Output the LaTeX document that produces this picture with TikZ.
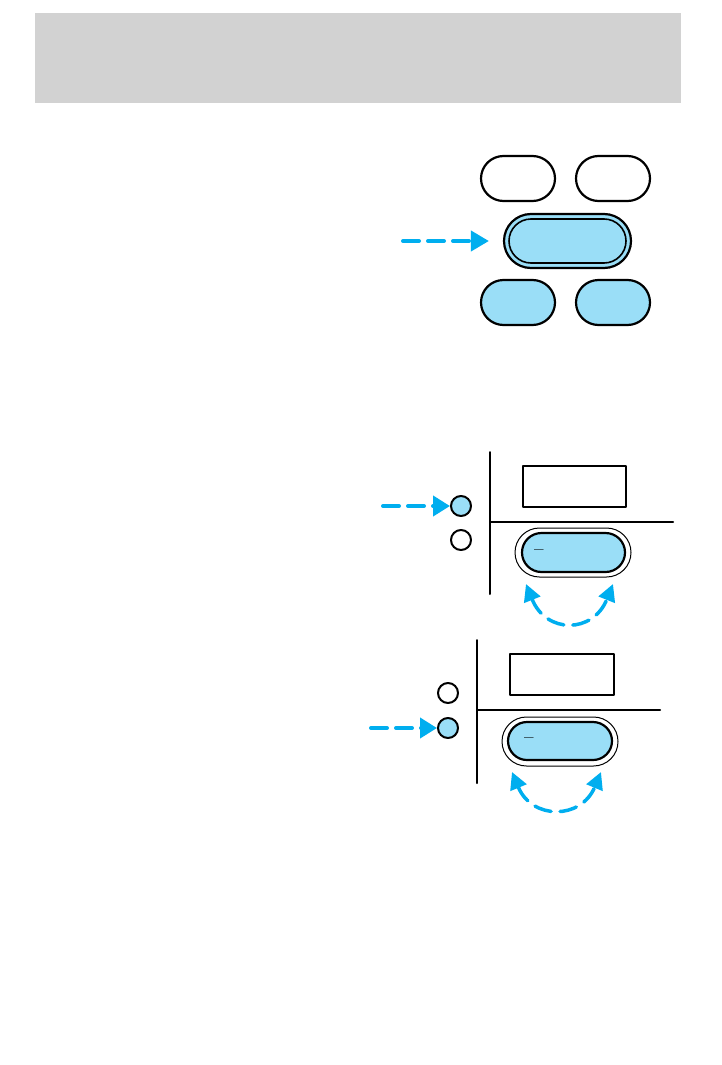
\documentclass[tikz,border=0pt]{standalone}
\usepackage{tikz}
\usetikzlibrary{arrows.meta,shapes.misc,positioning}
\definecolor{keyblue}{HTML}{9ADEF7}
\definecolor{cueblue}{HTML}{00AEEF}
\definecolor{headgray}{HTML}{D2D2D2}
\tikzset{
  every picture/.style={line join=round, line cap=round, >=Stealth},
  key/.style={rounded rectangle, draw, line width=2.2pt, minimum width=74pt, minimum height=45pt, inner sep=0pt},
  ring/.style={rounded rectangle, draw, line width=1pt, inner sep=0pt},
  led/.style={circle, draw, line width=2pt, minimum size=20pt, inner sep=0pt},
  screen/.style={rectangle, draw, line width=2pt, minimum width=103pt, minimum height=41pt, inner sep=0pt},
  mark text/.style={font=\fontsize{17}{17}\selectfont\bfseries, inner sep=0pt},
  cue/.style={draw=cueblue, line width=4pt, dash pattern=on 16pt off 9pt, -{Triangle[length=18pt,width=20pt]}},
  swing/.style={draw=cueblue, line width=3.5pt, dash pattern=on 17pt off 9pt, {Triangle[length=17pt,width=17pt]}-{Triangle[length=17pt,width=17pt]}},
}

\begin{document}
\begin{tikzpicture}[x=1pt,y=-1pt]
\useasboundingbox (0,0) rectangle (721,1065);
\fill[headgray] (35,13) rectangle (681,103);
% key pad
\node[key] (keyTL) at (518,178.5) {};
\node[key] (keyTR) at (613,178.5) {};
\node[key, fill=keyblue, minimum width=127pt, minimum height=54pt] (keyMid) at (567.5,241) {};
\node[rounded rectangle, draw, line width=1.6pt, minimum width=117pt, minimum height=44pt, inner sep=0pt] (keyMidIn) at (keyMid) {};
\node[key, fill=keyblue] (keyBL) at (518,302.5) {};
\node[key, fill=keyblue] (keyBR) at (613,302.5) {};
\coordinate (cueA) at (403,241);
\draw[cue, shorten >=14pt] (cueA) -- (keyMid.west);
% first display
\draw[line width=2pt] (490,452) -- (490,594) (490,522) -- (673,522);
\node[screen] (scrA) at (574.5,486.5) {};
\node[led, fill=keyblue] (ledA1) at (461,506) {};
\node[led] (ledA2) at (461,540) {};
\node[ring, minimum width=116pt, minimum height=49pt] (ringA) at (573,552.5) {};
\node[key, fill=keyblue, minimum width=103pt, minimum height=39pt] (selA) at (573.5,552.5) {};
\node[mark text] (dashA) at (539,552) {--};
\coordinate (cueB) at (383,506);
\draw[cue, -{Triangle[length=17pt,width=20pt]}] (cueB) -- (ledA1.west);
\coordinate (swA1) at (526,584);
\coordinate (swA2) at (613,584);
\draw[swing] (swA1) .. controls (546,634) and (593,634) .. (swA2);
% second display
\draw[line width=2pt] (477,640) -- (477,783) (477,710) -- (660,710);
\node[screen, minimum width=104pt] (scrB) at (562,674.5) {};
\node[led] (ledB1) at (448,693) {};
\node[led, fill=keyblue] (ledB2) at (448,728) {};
\node[ring, minimum width=116pt, minimum height=49pt] (ringB) at (560,741.5) {};
\node[key, fill=keyblue, minimum width=104pt, minimum height=38pt] (selB) at (560,741) {};
\node[mark text] (dashB) at (529,740) {--};
\coordinate (cueC) at (371,728);
\draw[cue, -{Triangle[length=17pt,width=20pt]}] (cueC) -- (ledB2.west);
\coordinate (swB1) at (512,772);
\coordinate (swB2) at (601,772);
\draw[swing] (swB1) .. controls (532,820) and (581,820) .. (swB2);
\end{tikzpicture}
\end{document}
